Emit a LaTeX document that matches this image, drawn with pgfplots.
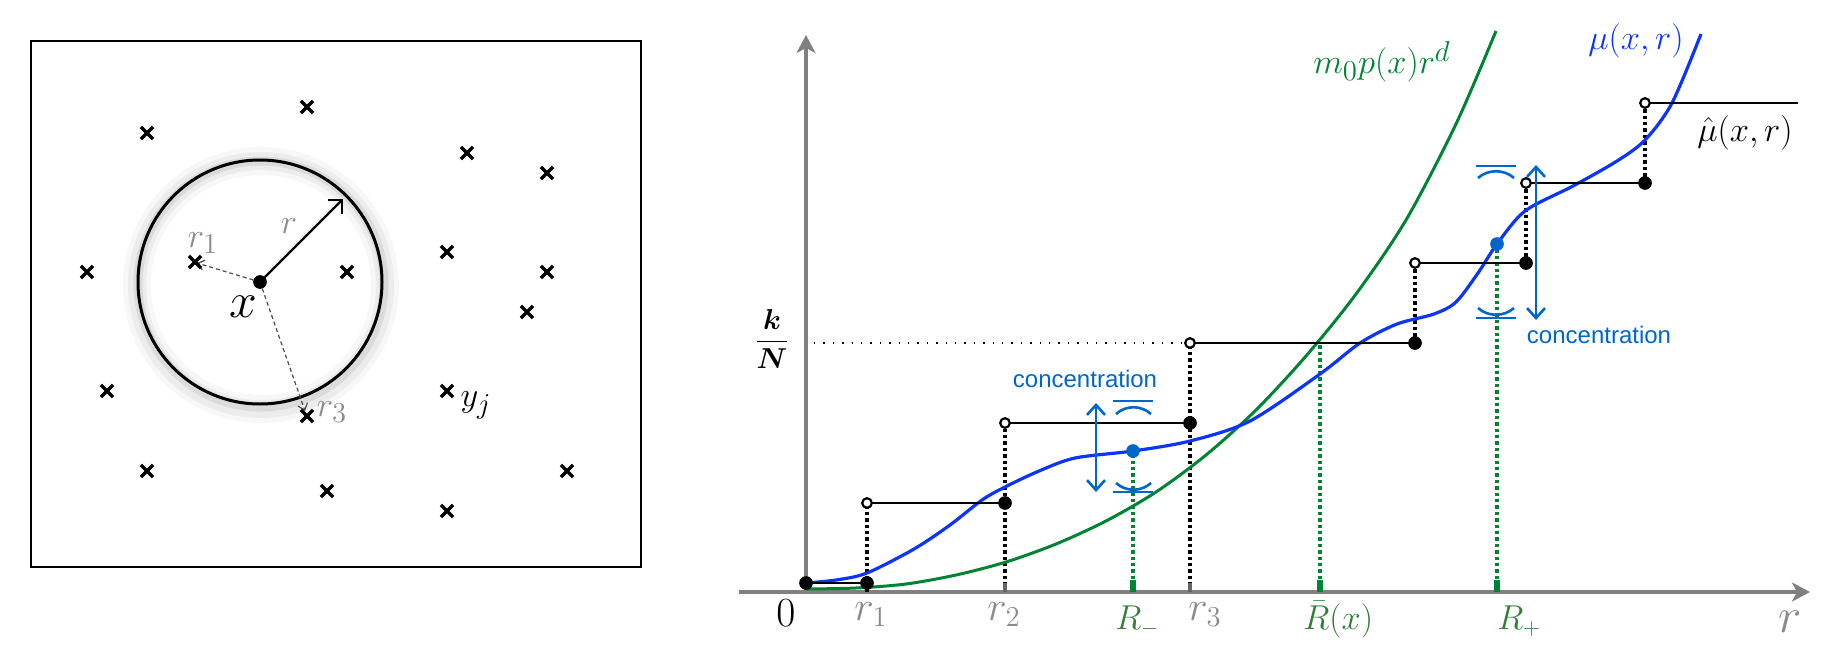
\documentclass[border=0pt]{standalone}
\usepackage{fontspec}
\newfontfamily\concfont{Liberation Sans}
\usepackage{amsmath, bm}
\usepackage{pgfplots}
\pgfplotsset{compat=1.18}
\usetikzlibrary{arrows.meta}

\definecolor{MuBlue}{RGB}{12,52,250}
\definecolor{ConcBlue}{RGB}{0,102,204}
\definecolor{CurveGreen}{RGB}{0,132,52}
\definecolor{LabelGreen}{RGB}{50,125,55}
\definecolor{AxisGray}{RGB}{128,128,128}
\definecolor{TickGray}{RGB}{138,138,138}

\tikzset{
	lbl/.style={font=\fontsize{19}{22}\selectfont},
	rlbl/.style={font=\fontsize{20.5}{23}\selectfont, anchor=base west, inner sep=0pt, text=TickGray},
	Rlbl/.style={font=\fontsize{16}{19}\selectfont, anchor=base west, inner sep=0pt, text=LabelGreen},
	conc/.style={font=\concfont\fontsize{12}{14}\selectfont, text=ConcBlue},
	vdot/.style={black, line width=1.6pt, dash pattern=on 1.7pt off 1.5pt},
	gdot/.style={CurveGreen, line width=1.6pt, dash pattern=on 1.7pt off 1.5pt},
	stepline/.style={black, line width=1.3pt},
	closed/.style={only marks, mark=*, mark size=3.2pt, black},
	open/.style={only marks, mark=*, mark size=2.4pt,
		mark options={fill=white, draw=black, line width=1.1pt}},
	bracket/.style={ConcBlue, line width=1.3pt},
}

\begin{document}
\begin{tikzpicture}
\path (0,0) rectangle (913pt,-324pt);

% ---------- left panel: points around x ----------
\begin{axis}[at={(15.5pt,-283.5pt)}, anchor=south west,
	x=0.5pt, y=0.5pt, xmin=31, xmax=641, ymin=81, ymax=607,
	axis line style={line width=1pt}, xtick=\empty, ytick=\empty, clip=false]
	% soft shadow of the ball
	\draw[black, opacity=0.03, line width=14pt] (axis cs:261,363) circle[radius=62pt];
	\draw[black, opacity=0.045, line width=9pt] (axis cs:261,363) circle[radius=62pt];
	\draw[black, opacity=0.07, line width=4.5pt] (axis cs:261,364) circle[radius=61.5pt];
	\draw[line width=1.5pt, fill=none] (axis cs:260,366) circle[radius=61pt];
	\addplot[only marks, mark=x, mark size=4.3pt, mark options={line width=1.7pt}] coordinates {
		(147,515) (307,541) (467,495) (547,475) (87,376) (195,386)
		(347,376) (447,396) (547,376) (527,336) (107,257) (447,257)
		(307,232) (147,177) (327,157) (447,137) (567,177)};
	\addplot[black, line width=1.2pt, -{Straight Barb[length=5pt,width=10pt]}]
		coordinates {(260,366) (343,449)};
	\addplot[black!70, line width=0.6pt, dash pattern=on 2pt off 1.5pt,
		-{Straight Barb[length=3pt,width=5pt]}] coordinates {(260,366) (197,385)};
	\addplot[black!70, line width=0.6pt, dash pattern=on 2pt off 1.5pt,
		-{Straight Barb[length=3pt,width=5pt]}] coordinates {(260,366) (305,237)};
	\addplot[only marks, mark=*, mark size=3.2pt, black] coordinates {(260,366)};
	\node[lbl, text=TickGray] at (axis cs:289,422) {$r$};
	\node[lbl, text=TickGray] at (axis cs:203,405) {$r_1$};
	\node[lbl, text=TickGray] at (axis cs:332,236) {$r_3$};
	\node[font=\fontsize{25}{28}\selectfont] at (axis cs:243,341) {$x$};
	\node[lbl] at (axis cs:476,243) {$y_j$};
\end{axis}

% ---------- right panel: mu(x,r) and its estimate ----------
\begin{axis}[at={(369.5pt,-296pt)}, anchor=south west,
	x=0.5pt, y=0.5pt, xmin=-67, xmax=1004, ymin=0, ymax=557,
	axis lines=middle, xtick=\empty, ytick=\empty, clip=false,
	axis line style={AxisGray, line width=1.65pt},
	every inner x axis line/.append style={-{Stealth[length=9pt,width=9.5pt,inset=2.5pt]}},
	every inner y axis line/.append style={-{Stealth[length=9pt,width=9.5pt,inset=2.5pt]}}]
	% k/N level
	\addplot[black, line width=0.7pt, dash pattern=on 0.7pt off 4pt] coordinates {(8,249) (384,249)};
	% dotted jumps of the empirical measure
	\addplot[vdot] coordinates {(61,0) (61,89)};
	\addplot[vdot] coordinates {(199,0) (199,169)};
	\addplot[vdot] coordinates {(384,0) (384,249)};
	\addplot[vdot] coordinates {(609,249) (609,329)};
	\addplot[vdot] coordinates {(720,329) (720,409)};
	\addplot[vdot] coordinates {(839,409) (839,489)};
	% tick stubs
	\addplot[black!60, line width=2.2pt] coordinates {(199,0) (199,9)};
	\addplot[black!60, line width=2.2pt] coordinates {(384,0) (384,9)};
	\addplot[CurveGreen, line width=2.6pt] coordinates {(327,0) (327,12)};
	\addplot[CurveGreen, line width=2.6pt] coordinates {(514,0) (514,12)};
	\addplot[CurveGreen, line width=2.6pt] coordinates {(691,0) (691,12)};
	% green dotted radii
	\addplot[gdot] coordinates {(327,0) (327,141)};
	\addplot[gdot] coordinates {(514,0) (514,249)};
	\addplot[gdot] coordinates {(691,0) (691,348)};
	% m0 p(x) r^d
	\addplot[CurveGreen, line width=1.5pt, smooth] coordinates {
		(0,3) (50,4) (100,8) (150,17) (200,30) (250,48) (300,71) (350,100)
		(400,137) (450,182) (500,236) (550,298) (600,372) (650,468) (690,561)};
	% mu(x,r)
	\addplot[MuBlue, line width=1.6pt, smooth] coordinates {
		(0,9) (30,12) (61,19) (108,43) (144,67) (176,92) (199,105) (233,121)
		(269,134) (327,141) (384,151) (444,171) (514,218) (554,249) (591,268)
		(628,278) (650,290) (672,319) (691,348) (719,381) (767,406) (811,431)
		(839,452) (866,489) (895,558)};
	% empirical steps
	\addplot[stepline] coordinates {(0,9) (61,9)};
	\addplot[stepline] coordinates {(61,89) (199,89)};
	\addplot[stepline] coordinates {(199,169) (384,169)};
	\addplot[stepline] coordinates {(384,249) (609,249)};
	\addplot[stepline] coordinates {(609,329) (720,329)};
	\addplot[stepline] coordinates {(720,409) (839,409)};
	\addplot[stepline] coordinates {(839,489) (992,489)};
	\addplot[closed] coordinates {(0,9) (61,9) (199,89) (384,169) (609,249) (720,329) (839,409)};
	\addplot[open] coordinates {(61,89) (199,169) (384,249) (609,329) (720,409) (839,489)};
	% concentration around R- and R+
	\addplot[only marks, mark=*, mark size=3.2pt, ConcBlue] coordinates {(327,141) (691,348)};
	\addplot[ConcBlue, line width=1.3pt,
		{Straight Barb[length=5pt,width=9pt]}-{Straight Barb[length=5pt,width=9pt]}]
		coordinates {(290,189) (290,100)};
	\addplot[ConcBlue, line width=1.3pt,
		{Straight Barb[length=5pt,width=9pt]}-{Straight Barb[length=5pt,width=9pt]}]
		coordinates {(730,427) (730,272)};
	\draw[bracket] (axis cs:307,191) -- (axis cs:347,191);
	\draw[bracket] (axis cs:310,178) .. controls (axis cs:320,187) and (axis cs:335,187) .. (axis cs:345,178);
	\draw[bracket] (axis cs:307,100) -- (axis cs:347,100);
	\draw[bracket] (axis cs:310,109) .. controls (axis cs:320,100) and (axis cs:335,100) .. (axis cs:345,109);
	\draw[bracket] (axis cs:670,426) -- (axis cs:710,426);
	\draw[bracket] (axis cs:672,414) .. controls (axis cs:682,423) and (axis cs:698,423) .. (axis cs:708,414);
	\draw[bracket] (axis cs:670,274) -- (axis cs:710,274);
	\draw[bracket] (axis cs:672,284) .. controls (axis cs:682,275) and (axis cs:698,275) .. (axis cs:708,284);
	\node[conc] at (axis cs:279,213) {concentration};
	\node[conc] at (axis cs:793,257) {concentration};
	% labels
	\node[font=\fontsize{14.5}{17}\selectfont, anchor=base] at (axis cs:-34,243) {$\dfrac{\bm{k}}{\bm{N}}$};
	\node[font=\fontsize{20}{23}\selectfont, anchor=base] at (axis cs:-20,-34) {$0$};
	\node[rlbl] at (axis cs:48,-28) {$r_1$};
	\node[rlbl] at (axis cs:181,-28) {$r_2$};
	\node[rlbl] at (axis cs:382,-28) {$r_3$};
	\node[Rlbl] at (axis cs:309,-37) {$R_-$};
	\node[Rlbl] at (axis cs:497,-37) {$\bar{R}(x)$};
	\node[Rlbl] at (axis cs:691,-37) {$R_+$};
	\node[rlbl, font=\fontsize{23}{26}\selectfont] at (axis cs:972,-40) {$r$};
	\node[lbl, text=CurveGreen] at (axis cs:576,530) {$m_0p(x)r^d$};
	\node[lbl, text=MuBlue] at (axis cs:830,551) {$\mu(x,r)$};
	\node[lbl] at (axis cs:939,459) {$\hat{\mu}(x,r)$};
\end{axis}
\end{tikzpicture}
\end{document}
